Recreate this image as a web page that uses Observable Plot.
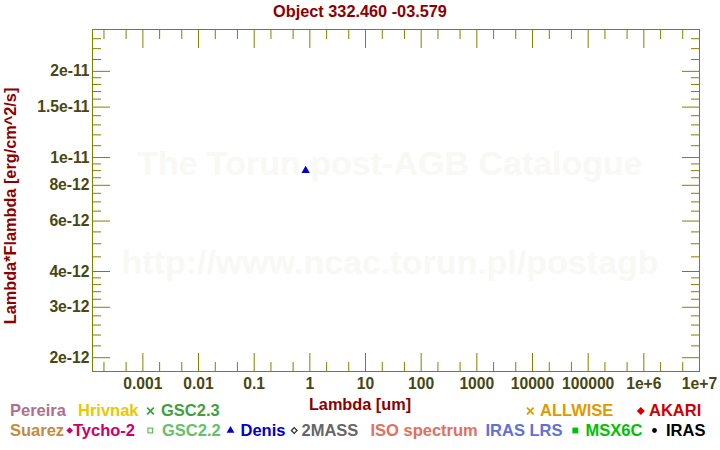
<!DOCTYPE html>
<html><head><meta charset="utf-8">
<script src="https://cdn.jsdelivr.net/npm/d3@7"></script>
<script src="https://cdn.jsdelivr.net/npm/@observablehq/plot@0.6"></script>
<style>
body{margin:0;background:#fff;}
#wrap{position:relative;width:720px;height:450px;overflow:hidden;}
#wrap svg{position:absolute;left:0;top:0;}
</style></head><body><div id="wrap"></div>
<script>
// ---- text ----
const titleText = "Object 332.460 -03.579";
const xLabelText = "Lambda [um]";
const yLabelText = "Lambda*Flambda [erg/cm^2/s]";
const watermarkLines = ["The Torun post-AGB Catalogue", "http://www.ncac.torun.pl/postagb"];

// ---- data (Denis photometry) ----
const denisLambda = [0.84];
const denisFlux = [9.0e-12];

// ---- ticks ----
const xMajor = [1e-3, 1e-2, 1e-1, 1, 10, 100, 1000, 1e4, 1e5, 1e6, 1e7];
const xMajorLabels = ["0.001", "0.01", "0.1", "1", "10", "100", "1000", "10000", "100000", "1e+6", "1e+7"];
const xMinor = [2e-4, 5e-4, 2e-3, 5e-3, 2e-2, 5e-2, 0.2, 0.5, 2, 5, 20, 50, 200, 500, 2000, 5000, 2e4, 5e4, 2e5, 5e5, 2e6, 5e6];
const yMajor = [2e-12, 3e-12, 4e-12, 6e-12, 8e-12, 1e-11, 1.5e-11, 2e-11];
const yMajorLabels = ["2e-12", "3e-12", "4e-12", "6e-12", "8e-12", "1e-11", "1.5e-11", "2e-11"];
const yMinor = [2.2e-12, 2.4e-12, 2.6e-12, 2.8e-12, 3.2e-12, 3.4e-12, 3.6e-12, 3.8e-12,
  4.5e-12, 5e-12, 5.5e-12, 6.5e-12, 7e-12, 7.5e-12, 8.5e-12, 9e-12, 9.5e-12,
  1.1e-11, 1.2e-11, 1.3e-11, 1.4e-11, 1.6e-11, 1.7e-11, 1.8e-11, 1.9e-11,
  2.2e-11, 2.4e-11, 2.6e-11];

// ---- legend ----
const legendNames = ["Pereira", "Hrivnak", "GSC2.3", "ALLWISE", "AKARI",
  "Suarez", "Tycho-2", "GSC2.2", "Denis", "2MASS", "ISO spectrum", "IRAS LRS", "MSX6C", "IRAS"];
const legendColors = ["#b06f8c", "#e8c800", "#40a040", "#e09a00", "#d00000",
  "#c58a3e", "#cc0066", "#66c066", "#0000cc", "#666666", "#e07060", "#6070d8", "#00c000", "#000000"];
const legendSymbols = [null, null, "times", "times", "diamond",
  null, "diamondSmall", "squareOpen", "triangle", "diamondOpen", null, null, "square", "circle"];
// layout: [text left x, symbol centre x, row]
const legendLayout = [[10, null, 0], [78, null, 0], [161, 150.5, 0], [540, 530.3, 0], [649, 640.8, 0],
  [10, null, 1], [73, 69.7, 1], [162, 150.3, 1], [240.5, 230.5, 1], [301.5, 294.2, 1], [370.5, null, 1],
  [485.5, null, 1], [585.5, 575.3, 1], [666, 654.5, 1]];

const axisColor = "#808000";
const tickColor = "#474712";
const labelColor = "#8b0000";
const font = "Liberation Sans, Arial, sans-serif";

const W = 720, H = 450;
const wrap = d3.select("#wrap");

// ---- background overlay: watermark, title, labels, legend ----
const ov = wrap.append("svg").attr("width", W).attr("height", H)
  .style("font-family", font).style("font-weight", "bold");

ov.selectAll("text.wm").data(watermarkLines).join("text").attr("class", "wm")
  .attr("x", 390).attr("y", (d, i) => i === 0 ? 175 : 274)
  .attr("text-anchor", "middle").attr("font-size", 34).attr("fill", "#f8f8f5").text(d => d);

ov.append("text").attr("x", 360).attr("y", 17).attr("text-anchor", "middle")
  .attr("font-size", 16.3).attr("fill", labelColor).text(titleText);
ov.append("text").attr("x", 360).attr("y", 409.5).attr("text-anchor", "middle")
  .attr("font-size", 16.3).attr("fill", labelColor).text(xLabelText);
ov.append("text").attr("transform", "translate(16,206) rotate(-90)").attr("text-anchor", "middle")
  .attr("font-size", 16.3).attr("fill", labelColor).text(yLabelText);

const rowBase = [416, 436];
const rowSym = [411, 430.5];
const symDef = {
  times: {type: d3.symbolTimes, size: 30, filled: false, rot: 0},
  diamond: {type: d3.symbolSquare, size: 32, filled: true, rot: 45},
  diamondSmall: {type: d3.symbolSquare, size: 22, filled: true, rot: 45},
  diamondOpen: {type: d3.symbolSquare, size: 16, filled: false, rot: 45},
  squareOpen: {type: d3.symbolSquare, size: 22, filled: false, rot: 0},
  square: {type: d3.symbolSquare, size: 34, filled: true, rot: 0},
  triangle: {type: d3.symbolTriangle, size: 26, filled: true, rot: 0},
  circle: {type: d3.symbolCircle, size: 18, filled: true, rot: 0}
};
legendNames.forEach((name, i) => {
  const [tx, sx, row] = legendLayout[i];
  const col = legendColors[i];
  ov.append("text").attr("x", tx).attr("y", rowBase[row]).attr("font-size", 16.5)
    .attr("fill", col).text(name);
  const s = legendSymbols[i];
  if (s) {
    const def = symDef[s];
    const symCol = s === "diamondOpen" ? "#333333" : col;
    ov.append("path").attr("d", d3.symbol(def.type, def.size)())
      .attr("transform", `translate(${sx},${rowSym[row]}) rotate(${def.rot})`)
      .attr("fill", def.filled ? symCol : "none")
      .attr("stroke", def.filled ? "none" : symCol)
      .attr("stroke-width", s === "times" ? 1.8 : 1.3);
  }
});

// ---- the plot ----
const denis = denisLambda.map((l, i) => ({lambda: l, flux: denisFlux[i]}));
const fmt = (ticks, labels) => d => labels[ticks.findIndex(v => Math.abs(Math.log10(v / d)) < 1e-9)];
const tickText = {fontSize: 15.7, fontWeight: "bold", fill: tickColor};

const plot = Plot.plot({
  width: W, height: H,
  marginLeft: 92, marginRight: 21, marginTop: 29, marginBottom: 79,
  style: {fontFamily: font, background: "transparent", overflow: "visible"},
  x: {type: "log", domain: [1.245e-4, 1e7]},
  y: {type: "log", domain: [1.79e-12, 2.8e-11]},
  marks: [
    Plot.axisX(xMajor, {anchor: "bottom", tickSize: -18, tickPadding: 24, stroke: axisColor, ...tickText,
      tickFormat: fmt(xMajor, xMajorLabels), label: null}),
    Plot.axisX(xMinor, {anchor: "bottom", tickSize: -9, stroke: axisColor, fill: "none", label: null}),
    Plot.axisX(xMajor, {anchor: "top", tickSize: -18, stroke: axisColor, fill: "none", label: null}),
    Plot.axisX(xMinor, {anchor: "top", tickSize: -9, stroke: axisColor, fill: "none", label: null}),
    Plot.axisY(yMajor, {anchor: "left", tickSize: -18, tickPadding: 21, stroke: axisColor, ...tickText,
      tickFormat: fmt(yMajor, yMajorLabels), label: null}),
    Plot.axisY(yMinor, {anchor: "left", tickSize: -9, stroke: axisColor, fill: "none", label: null}),
    Plot.axisY(yMajor, {anchor: "right", tickSize: -18, stroke: axisColor, fill: "none", label: null}),
    Plot.axisY(yMinor, {anchor: "right", tickSize: -9, stroke: axisColor, fill: "none", label: null}),
    Plot.frame({stroke: axisColor}),
    Plot.dot(denis, {x: "lambda", y: "flux", symbol: "triangle", r: 3.1, fill: "#0000cc", stroke: null})
  ]
});
wrap.node().appendChild(plot);
</script>
</body></html>
